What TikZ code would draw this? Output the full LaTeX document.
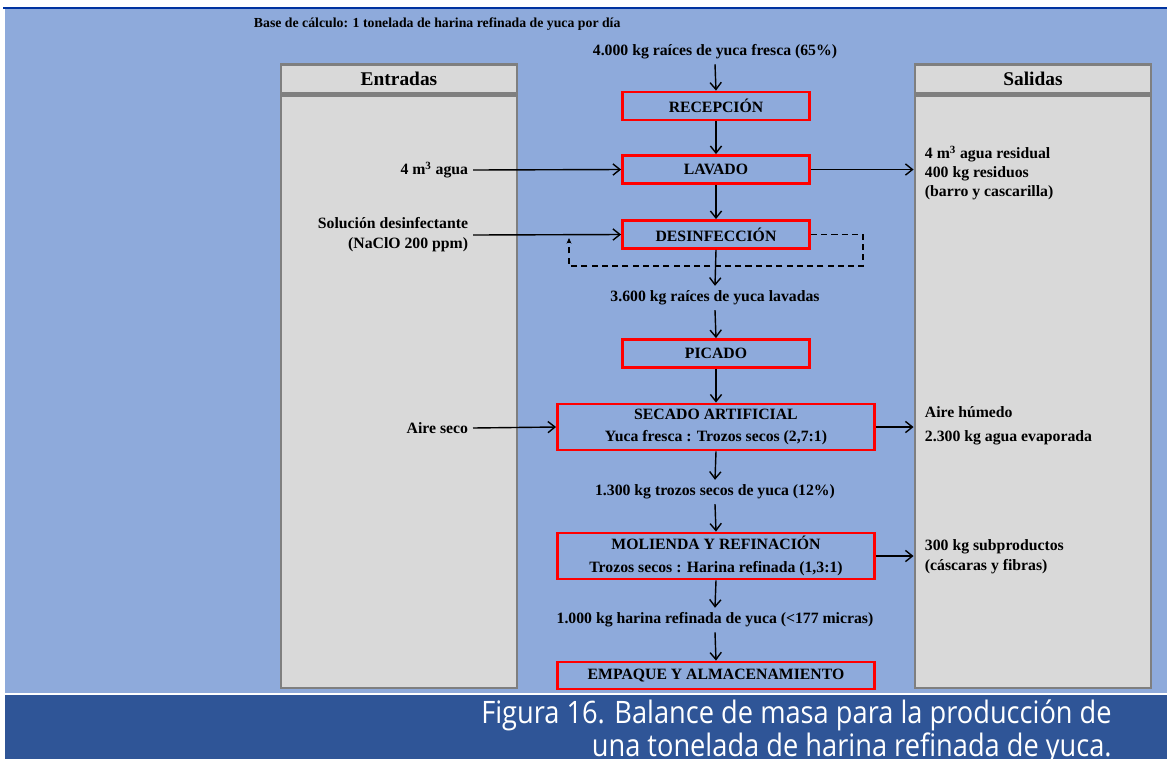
\documentclass[tikz,border=0pt]{standalone}
\usepackage{fontspec}
\setmainfont{Liberation Serif}
\newfontfamily\captionfont[FakeStretch=0.88]{Open Sans}
\usetikzlibrary{arrows.meta}

\definecolor{bgblue}{HTML}{8EAADB}
\definecolor{bandblue}{HTML}{2F5597}
\definecolor{topline}{HTML}{0033A0}
\definecolor{panelfill}{HTML}{D9D9D9}
\definecolor{panelgray}{HTML}{7F7F7F}
\definecolor{procred}{HTML}{FF0000}

\begin{document}
\begin{tikzpicture}[x=0.025cm,y=-0.025cm,
    proc/.style={draw=procred, line width=2pt, minimum width=4.675cm, minimum height=0.7cm,
        inner sep=0pt, align=center, font=\fontsize{11.2}{16}\selectfont\bfseries},
    wideproc/.style={proc, minimum width=7.925cm, minimum height=1.15cm},
    flowlbl/.style={font=\fontsize{11.2}{13}\selectfont\bfseries},
    sidelbl/.style={font=\fontsize{11.2}{14.2}\selectfont\bfseries},
    panelhead/.style={draw=panelgray, fill=panelfill, line width=2pt, minimum width=5.9cm,
        minimum height=0.725cm, inner sep=0pt, font=\fontsize{13.8}{15}\selectfont\bfseries},
    panelbody/.style={draw=panelgray, fill=panelfill, line width=2pt, minimum width=5.9cm,
        minimum height=14.8cm, inner sep=0pt},
    flow/.style={-{Straight Barb[length=5pt,width=8pt]}, line width=1pt}
]
    \useasboundingbox (0,0) rectangle (1167,759);
    \clip (0,0) rectangle (1167,759);

    % Background and caption band
    \fill[white] (0,0) rectangle (1167,759);
    \fill[bgblue] (5,9) rectangle (1167,693);
    \draw[topline, line width=1.5pt] (3,8) -- (1167,8);
    \fill[bandblue] (5,695) rectangle (1167,759);

    % Calculation basis
    \node[anchor=west, font=\fontsize{9.8}{11}\selectfont\bfseries] (base) at (249,24)
        {Base de cálculo: 1 tonelada de harina refinada de yuca por día};

    % Inputs and outputs panels
    \node[panelhead] (entH) at (399,79) {Entradas};
    \node[panelbody] (entB) at (399,392) {};
    \node[panelhead] (salH) at (1033,79) {Salidas};
    \node[panelbody] (salB) at (1033,392) {};

    % Process steps
    \node[proc] (rec) at (716,106) {RECEPCIÓN};
    \node[proc] (lav) at (716,169.5) {LAVADO};
    \node[proc] (des) at (716,234.5) {DESINFECCIÓN};
    \node[proc] (pic) at (716,353.5) {PICADO};
    \node[wideproc] (sec) at (716,427) {SECADO ARTIFICIAL\\Yuca fresca : Trozos secos (2,7:1)};
    \node[wideproc] (mol) at (716,556) {MOLIENDA Y REFINACIÓN\\Trozos secos : Harina refinada (1,3:1)};
    \node[proc, minimum width=7.925cm, minimum height=0.675cm] (emp) at (716,675.5)
        {EMPAQUE Y ALMACENAMIENTO};

    % Mass flow labels
    \node[flowlbl] (f1) at (715,52) {4.000 kg raíces de yuca fresca (65\%)};
    \node[flowlbl] (f2) at (715,298) {3.600 kg raíces de yuca lavadas};
    \node[flowlbl] (f3) at (715,492) {1.300 kg trozos secos de yuca (12\%)};
    \node[flowlbl] (f4) at (715,620) {1.000 kg harina refinada de yuca (<177 micras)};

    % Main line
    \draw[flow] (f1.south) -- (rec.north);
    \draw[flow] (rec.south) -- (lav.north);
    \draw[flow] (lav.south) -- (des.north);
    \draw[flow] (des.south) -- (f2.north);
    \draw[flow] (f2.south) -- (pic.north);
    \draw[flow] (pic.south) -- (sec.north);
    \draw[flow] (sec.south) -- (f3.north);
    \draw[flow] (f3.south) -- (mol.north);
    \draw[flow] (mol.south) -- (f4.north);
    \draw[flow] (f4.south) -- (emp.north);

    % Inputs
    \node[sidelbl, anchor=east] (in1) at (473,170) {4 m\textsuperscript{3} agua};
    \node[sidelbl, anchor=east, align=right] (in2) at (473,235)
        {Solución desinfectante\\(NaClO 200 ppm)};
    \node[sidelbl, anchor=east] (in3) at (473,428) {Aire seco};
    \draw[flow] (in1.east) -- (lav.west);
    \draw[flow] (in2.east) -- (des.west);
    \draw[flow] (in3.east) -- (sec.west);

    % Recirculation of the disinfecting solution
    \coordinate (loopA) at (863,266);
    \coordinate (loopB) at (569,266);
    \coordinate (loopE) at (569,238);
    \draw[line width=1pt, dash pattern=on 4.3pt off 3pt, -{Stealth[length=4pt,width=3.5pt]}]
        (des.east) -| (loopA) -- (loopB) -- (loopE);

    % Outputs
    \node[sidelbl, anchor=west, align=left, font=\fontsize{11.2}{13.5}\selectfont\bfseries] (out1) at (920,173)
        {4 m\textsuperscript{3} agua residual\\400 kg residuos\\(barro y cascarilla)};
    \node[sidelbl, anchor=west, align=left, font=\fontsize{11.2}{17}\selectfont\bfseries] (out2) at (920,426)
        {Aire húmedo\\2.300 kg agua evaporada};
    \node[sidelbl, anchor=west, align=left] (out3) at (920,557)
        {300 kg subproductos\\(cáscaras y fibras)};
    \draw[flow] (lav.east) -- (lav.east -| salB.west);
    \draw[flow] (sec.east) -- (sec.east -| salB.west);
    \draw[flow] (mol.east) -- (mol.east -| salB.west);

    % Caption
    \node[anchor=north east, align=right, text=white, inner sep=0pt,
        font=\captionfont\fontsize{22}{20.6}\selectfont] (cap) at (1112,700)
        {Figura 16. Balance de masa para la producción de\\una tonelada de harina refinada de yuca.};
\end{tikzpicture}
\end{document}
